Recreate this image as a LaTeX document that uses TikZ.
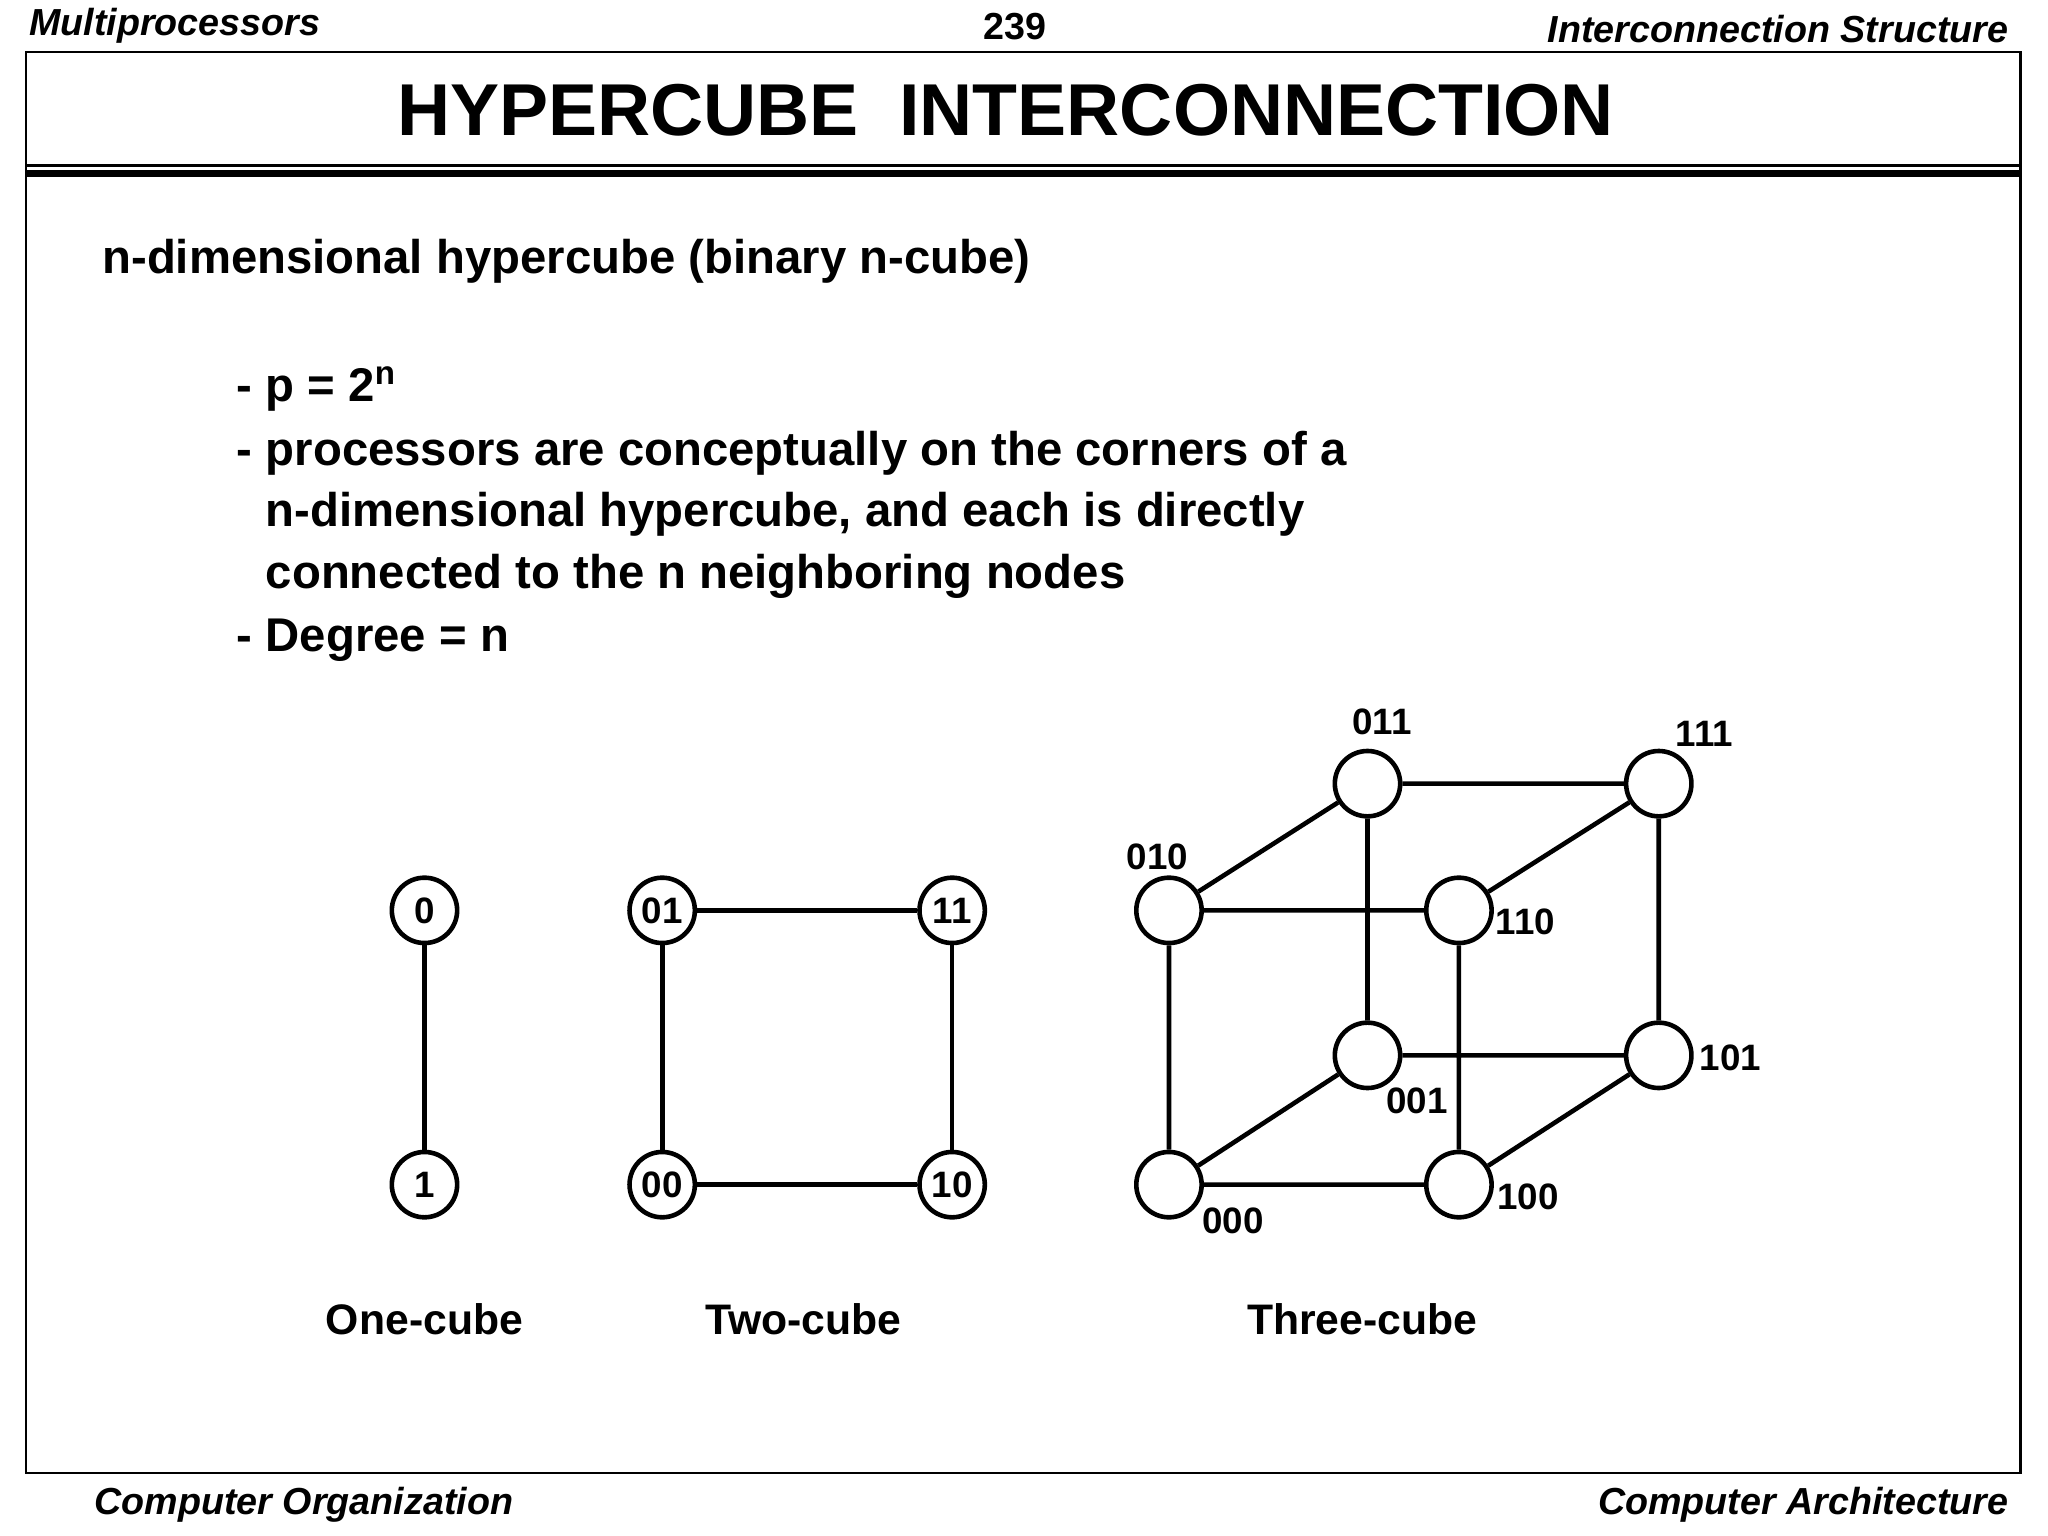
\documentclass[tikz,border=0pt]{standalone}
\usepackage{fontspec}
\setmainfont{Liberation Sans}
\begin{document}
\begin{tikzpicture}[x=0.01cm,y=-0.01cm,
  pe/.style={circle,draw,line width=1pt,minimum size=0.5cm,inner sep=0pt,font=\bfseries\fontsize{8}{9}\selectfont},
  lk/.style={line width=1pt},
  lab/.style={font=\bfseries\fontsize{8}{9}\selectfont},
  big/.style={font=\bfseries\fontsize{10.3}{13}\selectfont,anchor=west},
  hdr/.style={font=\bfseries\itshape\fontsize{8.2}{10}\selectfont}]
\useasboundingbox (0,0) rectangle (1568,1176);
\draw[line width=0.5pt] (20,40) rectangle (1547,1128);
\draw[line width=0.6pt] (20,127) -- (1547,127);
\draw[line width=1.6pt] (20,133) -- (1547,133);
\node[hdr,anchor=west] (h1) at (10,20) {Multiprocessors};
\node[hdr,font=\bfseries\fontsize{8.2}{10}\selectfont] (h2) at (777,20) {239};
\node[hdr,anchor=east] (h3) at (1550,22) {Interconnection Structure};
\node[font=\bfseries\fontsize{16}{19}\selectfont] (title) at (770,84) {HYPERCUBE\ \ INTERCONNECTION};
\node[big] (t0) at (66,200) {n-dimensional hypercube (binary n-cube)};
\node[big] (t1) at (169,298) {- p = 2\textsuperscript{n}};
\node[big] (t2) at (169,347) {- processors are conceptually on the corners of a};
\node[big] (t3) at (169,394) {\phantom{- }n-dimensional hypercube, and each is directly};
\node[big] (t4) at (169,441) {\phantom{- }connected to the n neighboring nodes};
\node[big] (t5) at (169,490) {- Degree = n};
% one-cube
\node[pe] (a0) at (325,697) {0};
\node[pe] (a1) at (325,907) {1};
\draw[lk] (a0)--(a1);
% two-cube
\node[pe] (b01) at (507,697) {01};
\node[pe] (b11) at (729,697) {11};
\node[pe] (b00) at (507,907) {00};
\node[pe] (b10) at (729,907) {10};
\draw[lk] (b01)--(b11) (b11)--(b10) (b10)--(b00) (b00)--(b01);
% three-cube
\node[pe] (c010) at (895,697) {};
\node[pe] (c110) at (1117,697) {};
\node[pe] (c000) at (895,907) {};
\node[pe] (c100) at (1117,907) {};
\node[pe] (c011) at (1047,600) {};
\node[pe] (c111) at (1270,600) {};
\node[pe] (c001) at (1047,808) {};
\node[pe] (c101) at (1270,808) {};
\draw[lk] (c010)--(c110) (c110)--(c100) (c100)--(c000) (c000)--(c010)
  (c011)--(c111) (c111)--(c101) (c101)--(c001) (c001)--(c011)
  (c010)--(c011) (c110)--(c111) (c000)--(c001) (c100)--(c101);
\node[lab] (l011) at (1058,553) {011};
\node[lab] (l111) at (1305,562) {111};
\node[lab] (l010) at (886,656) {010};
\node[lab] (l110) at (1168,706) {110};
\node[lab] (l101) at (1325,810) {101};
\node[lab] (l001) at (1085,843) {001};
\node[lab] (l100) at (1170,916) {100};
\node[lab] (l000) at (944,935) {000};
\node[lab,font=\bfseries\fontsize{9.3}{11}\selectfont] (k1) at (325,1010) {One-cube};
\node[lab,font=\bfseries\fontsize{9.3}{11}\selectfont] (k2) at (615,1010) {Two-cube};
\node[lab,font=\bfseries\fontsize{9.3}{11}\selectfont] (k3) at (1043,1010) {Three-cube};
\node[hdr,anchor=west] (f1) at (60,1152) {Computer Organization};
\node[hdr,anchor=east] (f2) at (1550,1152) {Computer Architecture};
\end{tikzpicture}
\end{document}
